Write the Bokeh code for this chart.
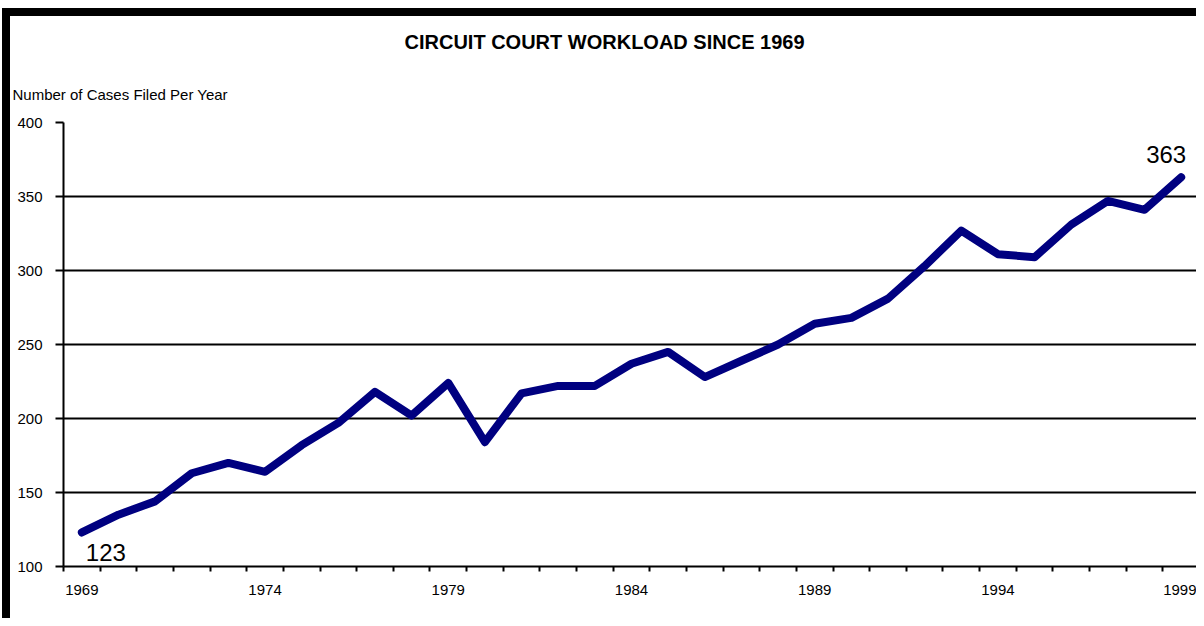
from bokeh.plotting import figure
from bokeh.models import Range1d, FixedTicker, Label, Title
from bokeh.embed import file_html
from bokeh.resources import INLINE

# ---- data ----
years = list(range(1969, 2000))
cases = [123, 135, 144, 163, 170, 164, 182, 197, 218, 202,
         224, 184, 217, 222, 222, 237, 245, 228, 239, 250,
         264, 268, 281, 303, 327, 311, 309, 331, 347, 341, 363]
x_label_years = [1969, 1974, 1979, 1984, 1989, 1994, 1999]
y_ticks = [100, 150, 200, 250, 300, 350, 400]
title_text = "CIRCUIT COURT WORKLOAD SINCE 1969"
y_title = "Number of Cases Filed Per Year"

FONT = "Liberation Sans"

p = figure(width=1194, height=610, title=None,
           x_range=Range1d(years[0] - 0.5, years[-1] + 0.5),
           y_range=Range1d(y_ticks[0], y_ticks[-1]),
           output_backend="svg", toolbar_location=None,
           min_border_left=53, min_border_right=5,
           min_border_top=106, min_border_bottom=60)
p.styles = {"border-left": "8px solid black", "border-top": "8px solid black",
            "margin-left": "2px", "margin-top": "8px"}
p.outline_line_color = None
p.background_fill_color = "white"
p.border_fill_color = "white"

# x axis: boundary ticks as minor ticks, labels at category centers
boundaries = [y - 0.5 for y in years] + [years[-1] + 0.5]
p.xaxis.ticker = FixedTicker(ticks=x_label_years, minor_ticks=boundaries)
p.xaxis.major_tick_out = 0
p.xaxis.major_tick_in = 0
p.xaxis.minor_tick_out = 5
p.xaxis.minor_tick_in = 0
p.xaxis.minor_tick_line_color = "black"
p.xaxis.minor_tick_line_width = 2
p.xaxis.axis_line_color = "black"
p.xaxis.axis_line_width = 2
p.xaxis.major_label_text_font = FONT
p.xaxis.major_label_text_font_size = "15px"
p.xaxis.major_label_text_color = "black"
p.xaxis.major_label_standoff = 13

# y axis
p.yaxis.ticker = FixedTicker(ticks=y_ticks, minor_ticks=[])
p.yaxis.major_tick_out = 8
p.yaxis.major_tick_in = 0
p.yaxis.major_tick_line_color = "black"
p.yaxis.major_tick_line_width = 2
p.yaxis.minor_tick_line_color = None
p.yaxis.axis_line_color = "black"
p.yaxis.axis_line_width = 2
p.yaxis.major_label_text_font = FONT
p.yaxis.major_label_text_font_size = "15px"
p.yaxis.major_label_text_color = "black"
p.yaxis.major_label_standoff = 13

p.xgrid.visible = False
p.ygrid.ticker = FixedTicker(ticks=y_ticks)
p.ygrid.grid_line_color = "black"
p.ygrid.grid_line_width = 2

# data line
p.line(years, cases, line_color="#000080", line_width=8,
       line_join="round", line_cap="round")

# end value labels
p.add_layout(Label(x=years[0], y=cases[0], text=str(cases[0]),
                   x_offset=4, y_offset=-20, text_align="left",
                   text_baseline="alphabetic", text_font=FONT,
                   text_font_size="24px", text_color="black"))
p.add_layout(Label(x=years[-1], y=cases[-1], text=str(cases[-1]),
                   x_offset=-15, y_offset=23, text_align="center",
                   text_baseline="alphabetic", text_font=FONT,
                   text_font_size="24px", text_color="black"))

# caption (closest to frame) then main title
p.add_layout(Title(text=y_title, align="left", offset=-51, standoff=39,
                   text_font=FONT, text_font_size="15px",
                   text_font_style="normal", text_color="black"), "above")
p.add_layout(Title(text=title_text, align="left", offset=341, standoff=24,
                   text_font=FONT, text_font_size="20px",
                   text_font_style="bold", text_color="black"), "above")

open("out.html", "w").write(file_html(p, INLINE))
